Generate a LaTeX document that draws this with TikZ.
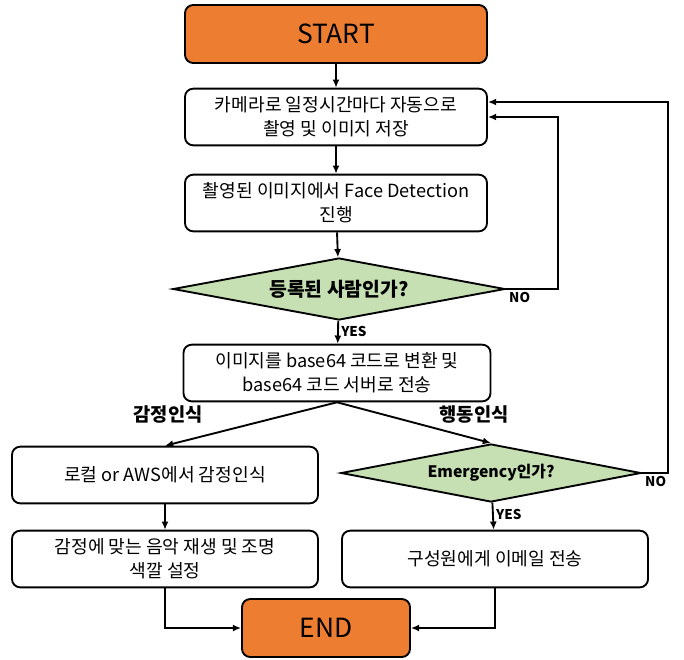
\documentclass[tikz,border=0pt]{standalone}
\usepackage{fontspec}
\setmainfont{Noto Sans CJK KR}
\usetikzlibrary{arrows.meta,positioning,shapes.geometric}
\definecolor{TermOrange}{RGB}{237,125,49}
\definecolor{SoftGreen}{RGB}{198,224,180}
\tikzset{
  terminal/.style={draw=black,rounded corners=7pt,fill=TermOrange,
    line width=1.6pt,minimum width=9.06cm,minimum height=1.74cm,
    font=\fontsize{22.5}{26}\selectfont},
  process/.style={draw=black,rounded corners=7pt,fill=white,
    line width=1.6pt,minimum width=9.06cm,minimum height=1.7cm,
    align=center,font=\fontsize{15.5}{20.5}\selectfont},
  decision/.style={diamond,draw=black,fill=SoftGreen,line width=1.6pt,
    inner sep=0pt,align=center,font=\bfseries\fontsize{16.5}{18}\selectfont},
  branch/.style={font=\bfseries\fontsize{16}{18}\selectfont},
  flag/.style={font=\bfseries\fontsize{11.5}{13}\selectfont,inner sep=2pt},
  arrow/.style={-{Latex[length=7pt,width=6pt]},line width=1.6pt}
}
\begin{document}
\begin{tikzpicture}[x=0.03cm,y=-0.03cm]
  \useasboundingbox (0,0) rectangle (684,659);
  % main column
  \node[terminal] (start) at (336,34) {START};
  \node[process] (capture) at (336,117) {카메라로 일정시간마다 자동으로\\촬영 및 이미지 저장};
  \node[process] (detect) at (336,203) {촬영된 이미지에서 Face Detection\\진행};
  \node[decision,minimum width=9.96cm,minimum height=1.86cm,aspect=5.35] (known) at (339,289) {등록된 사람인가?};
  \node[process,minimum width=9.21cm] (encode) at (337,373) {이미지를 base64 코드로 변환 및\\base64 코드 서버로 전송};
  % left branch
  \node[process,minimum width=9.18cm] (emotion) at (165,475) {로컬 or AWS에서 감정인식};
  \node[process,minimum width=9.18cm] (music) at (165,559) {감정에 맞는 음악 재생 및 조명\\색깔 설정};
  % right branch
  \node[decision,minimum width=9cm,minimum height=1.74cm,aspect=5.17,
    font=\bfseries\fontsize{13.5}{16}\selectfont] (emergency) at (491,473) {Emergency인가?};
  \node[process,minimum width=9.18cm] (mail) at (495,559) {구성원에게 이메일 전송};
  \node[terminal,minimum width=5.04cm] (end) at (326,628) {END};
  % branch labels
  \node[branch] (emolabel) at (168,414) {감정인식};
  \node[branch] (actlabel) at (474,414) {행동인식};
  % connectors
  \draw[arrow] (start) -- (capture);
  \draw[arrow] (capture) -- (detect);
  \draw[arrow] (detect) -- (known);
  \draw[arrow] (known) -- node[flag,right,pos=0.45]{YES} (encode);
  \draw[arrow] (known.east) node[flag,below right]{NO} -- (558,289) |- (capture.east);
  \draw[arrow] (encode.south) -- (emotion.north);
  \draw[arrow] (encode.south) -- (emergency.north);
  \draw[arrow] (emotion) -- (music);
  \draw[arrow] (emergency) -- node[flag,right,pos=0.45]{YES} (mail);
  \draw[arrow] (emergency.east) node[flag,below right]{NO} -- (668,473) |- ([yshift=0.45cm]capture.east);
  \draw[arrow] (music.south) |- (end.west);
  \draw[arrow] (mail.south) |- (end.east);
\end{tikzpicture}
\end{document}
